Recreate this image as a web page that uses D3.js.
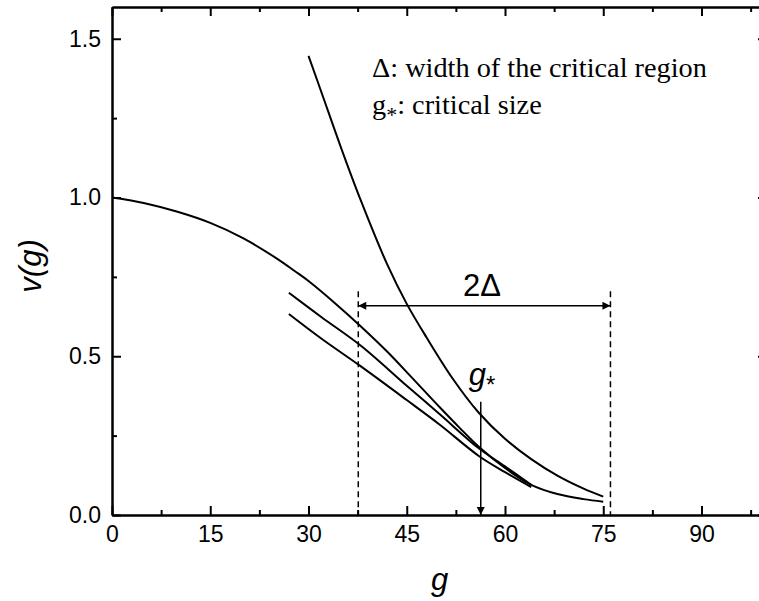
<!DOCTYPE html>
<html>
<head>
<meta charset="utf-8">
<script src="https://cdn.jsdelivr.net/npm/d3@7"></script>
<style>
  body { margin: 0; background: #fff; }
  svg { display: block; }
  .axis path, .axis line { stroke: #000; stroke-width: 2; }
  .axis text { font-family: "Liberation Sans", Arial, sans-serif; font-size: 23px; fill: #000; }
  .curve { fill: none; stroke: #000; stroke-width: 2; }
</style>
</head>
<body>
<svg id="chart" width="759" height="601"></svg>
<script>
// tick values
const xTicks = [0, 15, 30, 45, 60, 75, 90];
const yTicks = [0.0, 0.5, 1.0, 1.5];

// curve from g = 0
const gA = [0, 5, 10, 15, 20, 25, 28, 30, 34, 38, 42, 46, 50, 53, 56, 60, 64, 68, 72, 75];
const vA = [1.0, 0.982, 0.955, 0.92, 0.872, 0.81, 0.767, 0.737, 0.668, 0.594, 0.515, 0.428, 0.34, 0.276, 0.215, 0.148, 0.095, 0.066, 0.05, 0.042];

// two short curves starting near g = 27
const gB = [27, 32, 38, 45, 50, 56, 60, 64];
const vB = [0.70, 0.623, 0.533, 0.407, 0.318, 0.21, 0.153, 0.095];
const gC = [27, 32, 38, 45, 50, 56, 60, 64];
const vC = [0.633, 0.555, 0.468, 0.362, 0.285, 0.186, 0.135, 0.088];

// steep curve
const gD = [30, 32, 35, 38, 42, 45, 48, 52, 56, 60, 64, 68, 72, 75];
const vD = [1.446, 1.33, 1.155, 0.99, 0.79, 0.665, 0.56, 0.43, 0.322, 0.24, 0.176, 0.124, 0.083, 0.058];

// critical region markers
const gStar = 56.3;
const regionEdges = [37.6, 76.1];
const regionTop = 0.705;
const arrowLevel = 0.659;
const gStarArrowTop = 0.357;

const margin = {top: 7, left: 112, bottom: 86},
      width = 655,            // x axis runs to g = 100, past the right edge
      height = 601 - margin.top - margin.bottom;

const svg = d3.select("#chart");
const g = svg.append("g").attr("transform", `translate(${margin.left},${margin.top})`);

const x = d3.scaleLinear().domain([0, 100]).range([0, width]);
const y = d3.scaleLinear().domain([0, 1.6]).range([height, 0]);

// arrow head
svg.append("defs").append("marker")
    .attr("id", "arr")
    .attr("viewBox", "0 0 10 10")
    .attr("refX", 10).attr("refY", 5)
    .attr("markerWidth", 13).attr("markerHeight", 8)
    .attr("markerUnits", "userSpaceOnUse")
    .attr("orient", "auto-start-reverse")
    .append("path").attr("d", "M0,0L10,5L0,10Z").attr("fill", "#000");

const xMinor = d3.range(7.5, 100, 15);
const yMinor = [0.25, 0.75, 1.25];

// bottom + top axes
g.append("g").attr("class", "axis").attr("transform", `translate(0,${height})`)
    .call(d3.axisBottom(x).tickValues(xTicks).tickFormat(d3.format("d")).tickSize(-9).tickPadding(11).tickSizeOuter(0));
g.append("g").attr("class", "axis").attr("transform", `translate(0,${height})`)
    .call(d3.axisBottom(x).tickValues(xMinor).tickFormat("").tickSize(-5).tickSizeOuter(0));
g.append("g").attr("class", "axis")
    .call(d3.axisTop(x).tickValues(xTicks).tickFormat("").tickSize(-9).tickSizeOuter(0));
g.append("g").attr("class", "axis")
    .call(d3.axisTop(x).tickValues(xMinor).tickFormat("").tickSize(-5).tickSizeOuter(0));

// left + right axes
g.append("g").attr("class", "axis")
    .call(d3.axisLeft(y).tickValues(yTicks).tickFormat(d3.format(".1f")).tickSize(-9).tickPadding(11).tickSizeOuter(0));
g.append("g").attr("class", "axis")
    .call(d3.axisLeft(y).tickValues(yMinor).tickFormat("").tickSize(-5).tickSizeOuter(0));
g.append("g").attr("class", "axis").attr("transform", `translate(${width},0)`)
    .call(d3.axisRight(y).tickValues(yTicks).tickFormat("").tickSize(-9).tickSizeOuter(0));
g.append("g").attr("class", "axis").attr("transform", `translate(${width},0)`)
    .call(d3.axisRight(y).tickValues(yMinor).tickFormat("").tickSize(-5).tickSizeOuter(0));

// curves
const line = d3.line()
    .x(d => x(d[0]))
    .y(d => y(d[1]))
    .curve(d3.curveCatmullRom.alpha(0.5));

[[gA, vA], [gB, vB], [gC, vC], [gD, vD]].forEach(([gs, vs]) => {
    g.append("path")
        .datum(gs.map((v, i) => [v, vs[i]]))
        .attr("class", "curve")
        .attr("d", line);
});

// dashed edges of the critical region
regionEdges.forEach(e => {
    g.append("line")
        .attr("x1", x(e)).attr("x2", x(e))
        .attr("y1", y(regionTop)).attr("y2", y(0))
        .attr("stroke", "#000").attr("stroke-width", 1.5)
        .attr("stroke-dasharray", "6,4");
});

// double arrow 2Δ
g.append("line")
    .attr("x1", x(regionEdges[0])).attr("x2", x(regionEdges[1]))
    .attr("y1", y(arrowLevel)).attr("y2", y(arrowLevel))
    .attr("stroke", "#000").attr("stroke-width", 1.5)
    .attr("marker-start", "url(#arr)")
    .attr("marker-end", "url(#arr)");

g.append("text")
    .attr("x", x(56.5)).attr("y", y(arrowLevel) - 10)
    .attr("text-anchor", "middle")
    .style("font-family", "Liberation Sans, Arial, sans-serif")
    .style("font-size", "31px")
    .text("2Δ");

// g* arrow
g.append("line")
    .attr("x1", x(gStar)).attr("x2", x(gStar))
    .attr("y1", y(gStarArrowTop)).attr("y2", y(0))
    .attr("stroke", "#000").attr("stroke-width", 1.5)
    .attr("marker-end", "url(#arr)");

const gs = g.append("text")
    .attr("x", x(gStar) - 12).attr("y", y(gStarArrowTop) - 17)
    .style("font-family", "Liberation Sans, Arial, sans-serif")
    .style("font-size", "31px")
    .style("font-style", "italic");
gs.append("tspan").text("g");
gs.append("tspan").attr("dy", 8).style("font-size", "24px").style("font-style", "normal").text("*");

// legend text
const legend = g.append("g")
    .style("font-family", "Liberation Serif, Times New Roman, serif")
    .style("font-size", "28.3px");
legend.append("text").attr("x", 260).attr("y", 70).text("Δ: width of the critical region");
const l2 = legend.append("text").attr("x", 260).attr("y", 107);
l2.append("tspan").text("g");
l2.append("tspan").attr("dy", 8).style("font-size", "22px").text("*");
l2.append("tspan").attr("dy", -8).text(": critical size");

// axis titles
svg.append("text")
    .attr("x", margin.left + width / 2).attr("y", 590)
    .attr("text-anchor", "middle")
    .style("font-family", "Liberation Sans, Arial, sans-serif")
    .style("font-size", "31px")
    .style("font-style", "italic")
    .text("g");

svg.append("text")
    .attr("transform", `translate(41,${margin.top + height / 2 + 5}) rotate(-90)`)
    .attr("text-anchor", "middle")
    .style("font-family", "Liberation Sans, Arial, sans-serif")
    .style("font-size", "31px")
    .style("font-style", "italic")
    .text("v(g)");
</script>
</body>
</html>
